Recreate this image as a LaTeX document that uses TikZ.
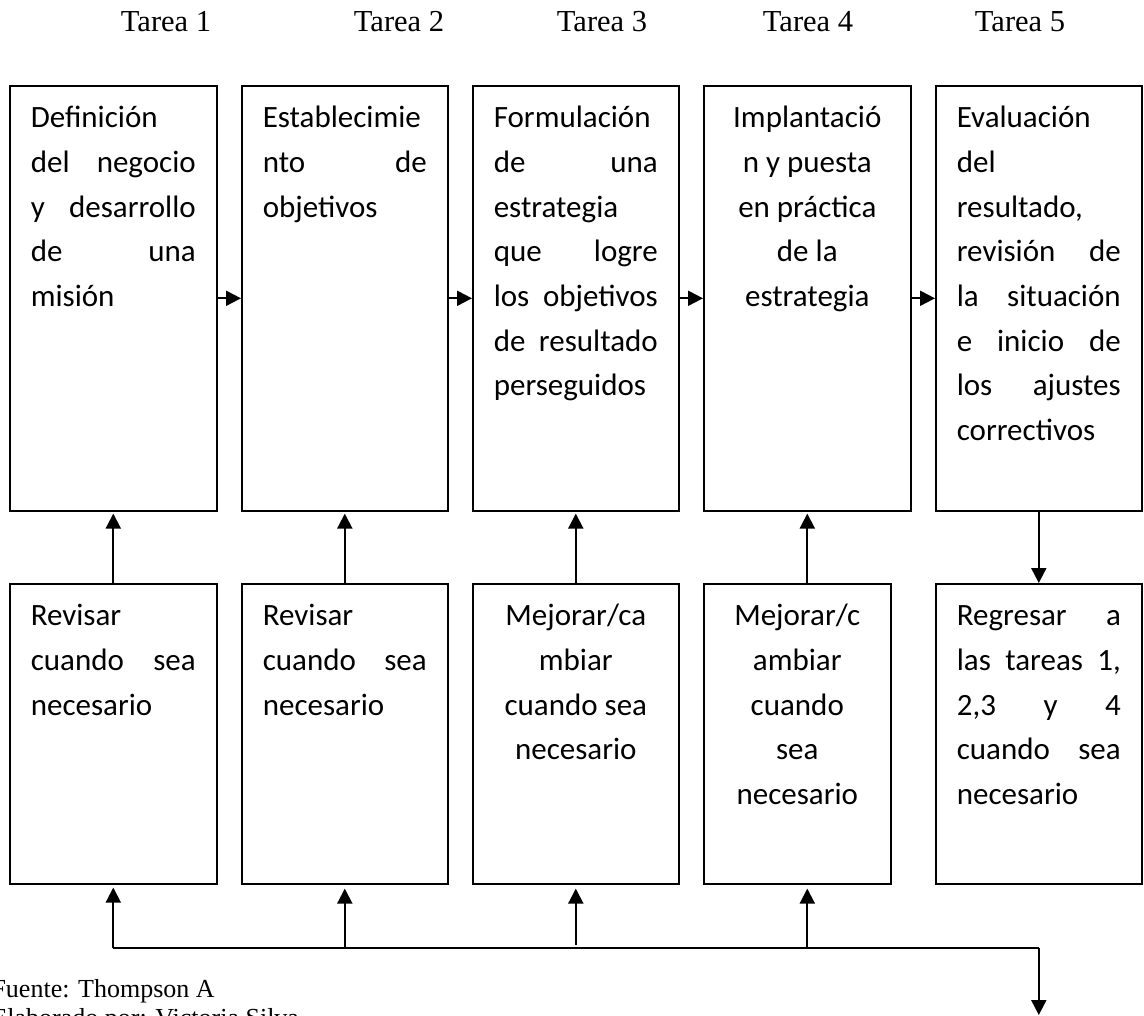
\documentclass[tikz,border=0pt]{standalone}
\usepackage{fontspec}
\usetikzlibrary{arrows.meta}
\newfontfamily\boxfont{Carlito}
\newfontfamily\capfont{Liberation Serif}

% text block of a box: width, height, alignment, lines
\newcommand{\cell}[4]{%
  \parbox[c][#2][t]{#1}{\boxfont\fontsize{31}{44.7}\selectfont #3\rule{0pt}{42pt}#4}}

\tikzset{
  taskbox/.style={draw, line width=1.6pt, inner xsep=21pt, inner ysep=0pt, anchor=north west},
  conn/.style={line width=2pt, -{Triangle[length=15pt,width=15pt]}},
  bus/.style={line width=2pt},
  tarea/.style={font=\capfont\fontsize{30.5}{36}\selectfont, anchor=base},
  note/.style={font=\capfont\fontsize{26}{30}\selectfont, anchor=base west},
}

\begin{document}
\begin{tikzpicture}[x=1pt, y=-1pt]
\clip (0,0) rectangle (1144,1016);

% task titles
\node[tarea] (h1) at (166,32) {Tarea 1};
\node[tarea] (h2) at (399,32) {Tarea 2};
\node[tarea] (h3) at (602,32) {Tarea 3};
\node[tarea] (h4) at (808,32) {Tarea 4};
\node[tarea] (h5) at (1020,32) {Tarea 5};

% upper row: the five tasks
\node[taskbox] (t1) at (9,85) {\cell{165pt}{425pt}{}{Definición\\
  del\hfill negocio\\ y\hfill desarrollo\\ de\hfill una\\ misión}};
\node[taskbox] (t2) at (241,85) {\cell{164pt}{425pt}{}{Establecimie\\
  nto\hfill de\\ objetivos}};
\node[taskbox] (t3) at (472,85) {\cell{164pt}{425pt}{}{Formulación\\
  de\hfill una\\ estrategia\\ que\hfill logre\\ los\hfill objetivos\\
  de\hfill resultado\\ perseguidos}};
\node[taskbox] (t4) at (703,85) {\cell{165pt}{425pt}{\centering}{Implantació\\
  n y puesta\\ en práctica\\ de la\\ estrategia}};
\node[taskbox] (t5) at (935,85) {\cell{164pt}{425pt}{}{Evaluación\\
  del\\ resultado,\\ revisión\hfill de\\ la\hfill situación\\
  e\hfill inicio\hfill de\\ los\hfill ajustes\\ correctivos}};

% lower row: follow-up actions
\node[taskbox] (b1) at (9,583) {\cell{165pt}{300pt}{}{Revisar\\
  cuando\hfill sea\\ necesario}};
\node[taskbox] (b2) at (241,583) {\cell{164pt}{300pt}{}{Revisar\\
  cuando\hfill sea\\ necesario}};
\node[taskbox] (b3) at (472,583) {\cell{164pt}{300pt}{\centering}{Mejorar/ca\\
  mbiar\\ cuando sea\\ necesario}};
\node[taskbox] (b4) at (703,583) {\cell{145pt}{300pt}{\centering}{Mejorar/c\\
  ambiar\\ cuando\\ sea\\ necesario}};
\node[taskbox] (b5) at (935,583) {\cell{164pt}{300pt}{}{Regresar\hfill a\\
  las\hfill tareas\hfill 1,\\ 2,3\hfill y\hfill 4\\ cuando\hfill sea\\ necesario}};

% source notes
\node[note] (src) at (-12,997) {Fuente: Thompson A};
\node[note] (auth) at (-12,1026) {Elaborado por: Victoria Silva};

% sequence of tasks
\draw[conn] (t1.east) -- (t2.west);
\draw[conn] (t2.east) -- (t3.west);
\draw[conn] (t3.east) -- (t4.west);
\draw[conn] (t4.east) -- (t5.west);

% actions feeding back into their tasks
\draw[conn, shorten >=2pt] (b1.north) -- (t1.south);
\draw[conn, shorten >=2pt] (b2.north) -- (t2.south);
\draw[conn, shorten >=2pt] (b3.north) -- (t3.south);
\draw[conn, shorten >=2pt] (t4.south |- b4.north) -- (t4.south);
\draw[conn] (t5.south) -- (b5.north);

% return bus along the bottom
\coordinate (busy) at (0,948);
\coordinate (out) at (1038,1015);
\draw[bus] (b1.south |- busy) -- (t5.south |- busy);
\draw[conn, shorten >=3pt] (b1.south |- busy) -- (b1.south);
\draw[conn, shorten >=4pt] (b2.south |- busy) -- (b2.south);
\draw[conn, shorten >=4pt] (b3.south |- 0,945) -- (b3.south);
\draw[conn, shorten >=4pt] (t4.south |- busy) -- (t4.south |- b4.south);
\draw[conn] (t5.south |- busy) -- (t5.south |- out);
\end{tikzpicture}
\end{document}
